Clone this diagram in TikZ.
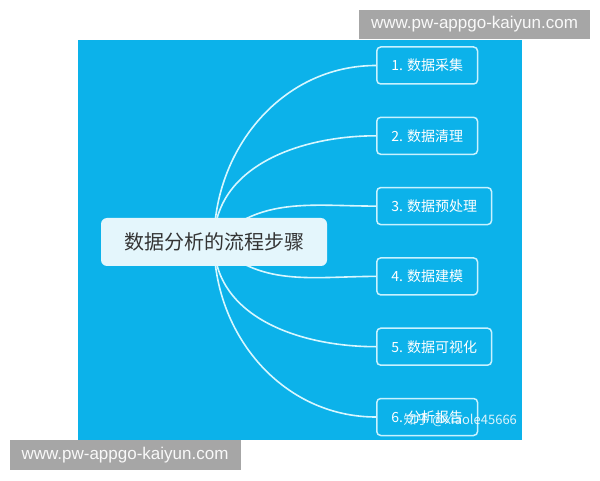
\documentclass[tikz,border=0pt]{standalone}
\usepackage{fontspec}
\setmainfont{Noto Sans CJK SC}
\newfontfamily\wmfont{Liberation Sans}
\usepackage{xcolor}
\usetikzlibrary{positioning,calc}
\definecolor{bgblue}{RGB}{12,178,234}
\definecolor{stepline}{RGB}{200,242,255}
\definecolor{branchline}{RGB}{215,247,255}
\definecolor{mainfill}{RGB}{228,246,252}
\definecolor{maintext}{RGB}{52,52,52}
\definecolor{wmgray}{RGB}{166,166,166}

\begin{document}
\begin{tikzpicture}[x=1pt, y=1pt,
    stepbox/.style={draw=stepline, line width=1.5pt, rounded corners=4pt, fill=bgblue, text=white,
        font=\fontsize{14}{16}\selectfont, minimum height=37pt, inner xsep=14.5pt, anchor=west},
    branch/.style={draw=branchline, line width=1.6pt},
    wmbox/.style={fill=wmgray, text=white!95!gray, font=\wmfont\fontsize{17}{20}\selectfont,
        minimum width=231pt, minimum height=29.5pt, inner sep=0pt}]
    \useasboundingbox (0,0) rectangle (600,480);
    \fill[white] (0,0) rectangle (600,480);

    % Background
    \fill[bgblue] (78,40) rectangle (522,440);

    % Steps
    \coordinate (hub) at (214,238);
    \foreach \i/\txt in {1/数据采集, 2/数据清理, 3/数据预处理, 4/数据建模, 5/数据可视化, 6/分析报告}
        \node[stepbox] (s\i) at (376, {414.5-70.3*(\i-1)}) {\i. \txt};

    % Branches
    \foreach \i/\ang in {1/90, 2/90, 3/45, 4/-45, 5/-90, 6/-90}
        \draw[branch] (hub) to[out=\ang, in=180] (s\i.west);

    % Centre
    \node[fill=mainfill, rounded corners=6pt, minimum width=226pt, minimum height=48pt,
        text=maintext, font=\fontsize{20}{24}\selectfont] (main) at (hub) {数据分析的流程步骤};

    % Watermarks
    \node[anchor=west, text=white, opacity=.85, font=\fontsize{13}{15}\selectfont] (zhihu) at (400,60) {知乎 @xiaole45666};
    \node[wmbox] (wmtop) at (474.5,455.5) {www.pw-appgo-kaiyun.com};
    \node[wmbox] (wmbottom) at (125,25) {www.pw-appgo-kaiyun.com};
\end{tikzpicture}
\end{document}
